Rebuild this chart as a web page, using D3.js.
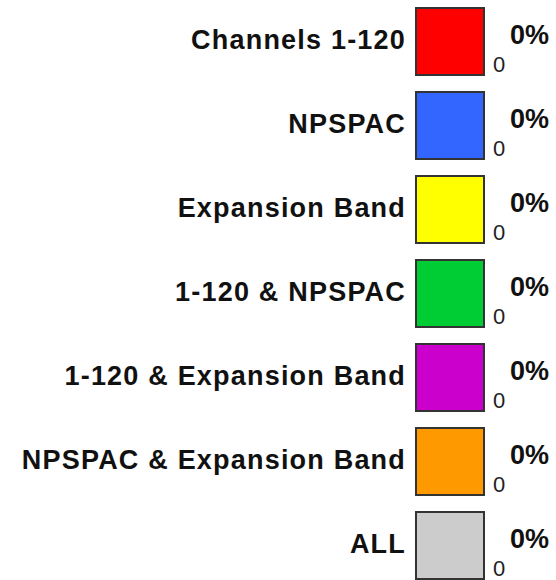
<!DOCTYPE html>
<html>
<head>
<meta charset="utf-8">
<script src="https://cdn.jsdelivr.net/npm/d3@7"></script>
<style>
  body { margin: 0; background: #fff; }
  svg { display: block; }
  .lbl { font-family: "Liberation Sans", Arial, sans-serif; font-weight: bold; }
  .cnt { font-family: "Liberation Sans Narrow", "Liberation Sans", Arial, sans-serif; }
</style>
</head>
<body>
<div id="chart"></div>
<script>
const categories = ["Channels 1-120", "NPSPAC", "Expansion Band", "1-120 & NPSPAC",
                    "1-120 & Expansion Band", "NPSPAC & Expansion Band", "ALL"];
const counts = [0, 0, 0, 0, 0, 0, 0];
const percents = [0, 0, 0, 0, 0, 0, 0];
const colors = ["#ff0000", "#3366ff", "#ffff00", "#00cc33", "#cc00cc", "#ff9900", "#cccccc"];

const WIDTH = 556, HEIGHT = 580;
const BOX = 68;

const svg = d3.select("#chart").append("svg")
    .attr("width", WIDTH)
    .attr("height", HEIGHT);

// one row per category, 84px pitch
const Y = d3.scaleBand()
    .domain(categories)
    .range([0, 84 * categories.length])
    .paddingInner(0);

const rows = svg.selectAll(".row")
    .data(categories)
    .enter()
    .append("g")
        .attr("class", "row")
        .attr("transform", d => "translate(0," + Y(d) + ")");

rows.append("rect")
    .attr("x", 416)
    .attr("y", 8)
    .attr("width", BOX)
    .attr("height", BOX - 1)
    .attr("fill", (d, i) => colors[i])
    .attr("stroke", "#333")
    .attr("stroke-width", 2);

rows.append("text")
    .attr("class", "lbl")
    .attr("x", 406)
    .attr("y", 49)
    .attr("text-anchor", "end")
    .attr("font-size", "27px")
    .attr("letter-spacing", "1.2px")
    .attr("fill", "#111")
    .text(d => d);

rows.append("text")
    .attr("class", "lbl")
    .attr("x", 510)
    .attr("y", 44)
    .attr("font-size", "27px")
    .attr("fill", "#111")
    .text((d, i) => percents[i] + "%");

rows.append("text")
    .attr("class", "cnt")
    .attr("x", 493)
    .attr("y", 72)
    .attr("font-size", "22px")
    .attr("fill", "#222")
    .text((d, i) => counts[i]);
</script>
</body>
</html>
